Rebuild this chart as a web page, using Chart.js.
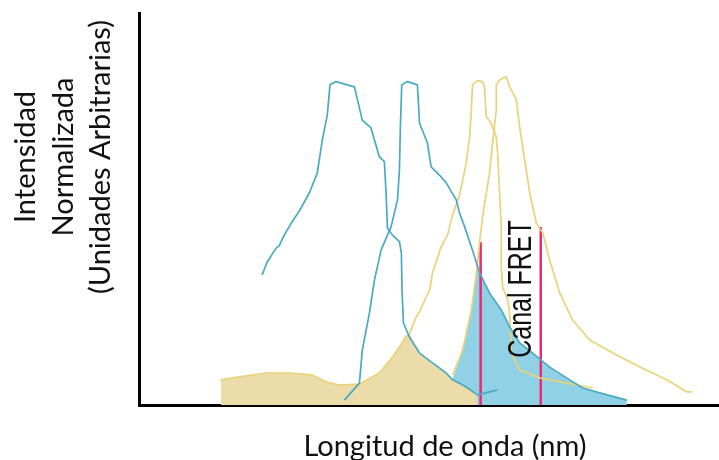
<!DOCTYPE html>
<html>
<head>
<meta charset="utf-8">
<script src="https://cdn.jsdelivr.net/npm/chart.js@4"></script>
<style>
  body { margin: 0; background: #fff; }
</style>
</head>
<body>
<canvas id="fret" width="719" height="460"></canvas>
<script>
/* spectra: [wavelength nm, normalised intensity] */
const donorEx = [[443.7,0.398],[446.3,0.438],[451.0,0.481],[452.5,0.487],[455.1,0.520],[458.8,0.557],[462.9,0.594],[468.1,0.649],[472.2,0.710],[474.8,0.811],[477.4,0.888],[478.8,0.980],[481.9,0.990],[491.4,0.974],[495.5,0.872],[500.0,0.848],[504.3,0.760],[506.9,0.745],[507.8,0.649],[508.5,0.542],[511.1,0.520],[514.7,0.500],[515.7,0.466],[516.1,0.343],[516.8,0.251],[519.9,0.208],[525.1,0.159],[531.8,0.129],[538.9,0.098],[542.2,0.077],[548.4,0.058],[555.1,0.031],[561.3,0.040],[565.5,0.046]];
const donorEm = [[486.2,0.015],[494.0,0.067],[495.5,0.168],[499.2,0.282],[501.8,0.383],[505.2,0.474],[510.4,0.546],[513.7,0.628],[514.7,0.719],[515.2,0.852],[515.9,0.980],[518.9,0.990],[524.0,0.980],[525.1,0.863],[529.2,0.802],[531.1,0.729],[535.4,0.704],[538.9,0.680],[544.1,0.628],[545.8,0.588],[548.4,0.546],[552.5,0.474],[556.2,0.404],[561.3,0.343],[567.4,0.291],[571.7,0.239],[576.9,0.190],[583.6,0.159],[592.4,0.116],[602.8,0.077],[609.5,0.052],[618.3,0.037],[632.3,0.015]];
const acceptorEx = [[422.3,0.077],[431.8,0.086],[445.6,0.098],[457.7,0.098],[469.6,0.092],[476.7,0.071],[483.6,0.061],[494.0,0.064],[504.3,0.098],[511.1,0.147],[514.7,0.178],[518.2,0.211],[519.9,0.217],[523.4,0.270],[525.1,0.286],[530.3,0.352],[531.8,0.404],[536.3,0.484],[539.6,0.520],[542.2,0.582],[545.8,0.643],[549.3,0.741],[551.0,0.820],[551.9,0.903],[552.5,0.980],[555.1,0.993],[557.7,0.990],[558.7,0.974],[559.6,0.883],[562.1,0.863],[564.8,0.820],[565.5,0.771],[566.5,0.649],[567.4,0.545],[567.4,0.422],[568.1,0.361],[570.7,0.321],[571.7,0.282],[572.6,0.159],[576.9,0.107],[587.2,0.083],[601.2,0.067],[614.7,0.052]];
const acceptorEm = [[542.2,0.092],[547.4,0.168],[551.9,0.291],[554.5,0.404],[556.2,0.499],[557.7,0.575],[561.3,0.710],[562.9,0.802],[564.8,0.903],[564.8,0.980],[566.5,0.995],[570.0,1.005],[571.7,0.974],[575.2,0.934],[576.9,0.851],[579.5,0.750],[582.1,0.649],[585.5,0.557],[588.8,0.527],[592.4,0.444],[597.6,0.343],[604.3,0.260],[613.1,0.199],[625.1,0.159],[639.1,0.116],[653.0,0.077],[663.4,0.040],[666.0,0.040]];
// shaded overlaps
const tanFill = [[422.3,0.077],[431.8,0.086],[445.6,0.098],[457.7,0.098],[469.6,0.092],[476.7,0.071],[483.6,0.061],[494.0,0.064],[504.3,0.098],[511.1,0.147],[514.7,0.178],[518.2,0.211],[519.9,0.217],[525.1,0.159],[531.8,0.129],[538.9,0.098],[542.2,0.077],[548.4,0.058],[555.1,0.031]];
const cyanFill = [[542.2,0.080],[547.4,0.168],[551.9,0.291],[554.5,0.404],[555.0,0.425],[556.2,0.404],[561.3,0.343],[567.4,0.291],[571.7,0.239],[576.9,0.190],[583.6,0.159],[592.4,0.116],[602.8,0.077],[609.5,0.052],[618.3,0.037],[632.3,0.015]];
// FRET channel edges
const channel = [[556.7,0.499],[587.8,0.545]];

const X_TITLE = "Longitud de onda (nm)";
const Y_TITLE = ["Intensidad", "Normalizada", "(Unidades Arbitrarias)"];
const CHANNEL_LABEL = "Canal FRET";

const CYAN = "#4aaac2", YEL = "#e9d27a", PINK = "#ea2a72";
const pts = arr => arr.map(([x, y]) => ({ x, y }));
const line = (data, color) => ({ data: pts(data), borderColor: color, borderWidth: 1.7, borderJoinStyle: "round", pointRadius: 0, showLine: true, fill: false, order: 0 });
const area = (data, color, order) => ({ data: pts(data), borderWidth: 0, backgroundColor: color, pointRadius: 0, showLine: true, fill: "origin", order });

const texts = {
  id: "texts",
  afterDatasetsDraw(chart) {
    const { ctx, scales: { x, y } } = chart;
    ctx.save();
    ctx.fillStyle = "#111";
    ctx.textBaseline = "alphabetic";
    ctx.textAlign = "center";
    ctx.font = "29px Lato";
    ctx.fillText(X_TITLE, 445, 456);
    Y_TITLE.forEach((t, i) => {
      ctx.save();
      ctx.translate(35 + i * 37.5, 157);
      ctx.rotate(-Math.PI / 2);
      ctx.fillText(t, 0, 0);
      ctx.restore();
    });
    // channel label, squeezed like the source image
    ctx.translate(x.getPixelForValue(583), y.getPixelForValue(0.355));
    ctx.rotate(-Math.PI / 2);
    ctx.scale(1, 1.3);
    ctx.font = '25px "Liberation Sans"';
    ctx.fillText(CHANNEL_LABEL, 0, 0);
    ctx.restore();
  }
};

new Chart(document.getElementById("fret"), {
  type: "scatter",
  data: {
    datasets: [
      line(donorEx, CYAN),
      line(donorEm, CYAN),
      line(acceptorEx, YEL),
      line(acceptorEm, YEL),
      { ...line([[channel[0][0], 0], channel[0]], PINK), borderWidth: 2.5 },
      { ...line([[channel[1][0], 0], channel[1]], PINK), borderWidth: 2.5 },
      area(tanFill, "#ecdca9", 1),
      area(cyanFill, "#90d1e5", 2),
    ]
  },
  options: {
    responsive: false, animation: false,
    layout: { padding: { top: 13, right: 0, left: 0, bottom: 0 } },
    plugins: { legend: { display: false }, tooltip: { enabled: false } },
    elements: { line: { tension: 0 } },
    scales: {
      x: {
        type: "linear", min: 380, max: 680,
        grid: { display: false }, ticks: { display: false },
        border: { color: "#000", width: 3 },
        afterFit: s => { s.height = 55; }
      },
      y: {
        min: 0, max: 1.2,
        grid: { display: false }, ticks: { display: false },
        border: { color: "#000", width: 3 },
        afterFit: s => { s.width = 139; }
      }
    }
  },
  plugins: [texts]
});
</script>
</body>
</html>
